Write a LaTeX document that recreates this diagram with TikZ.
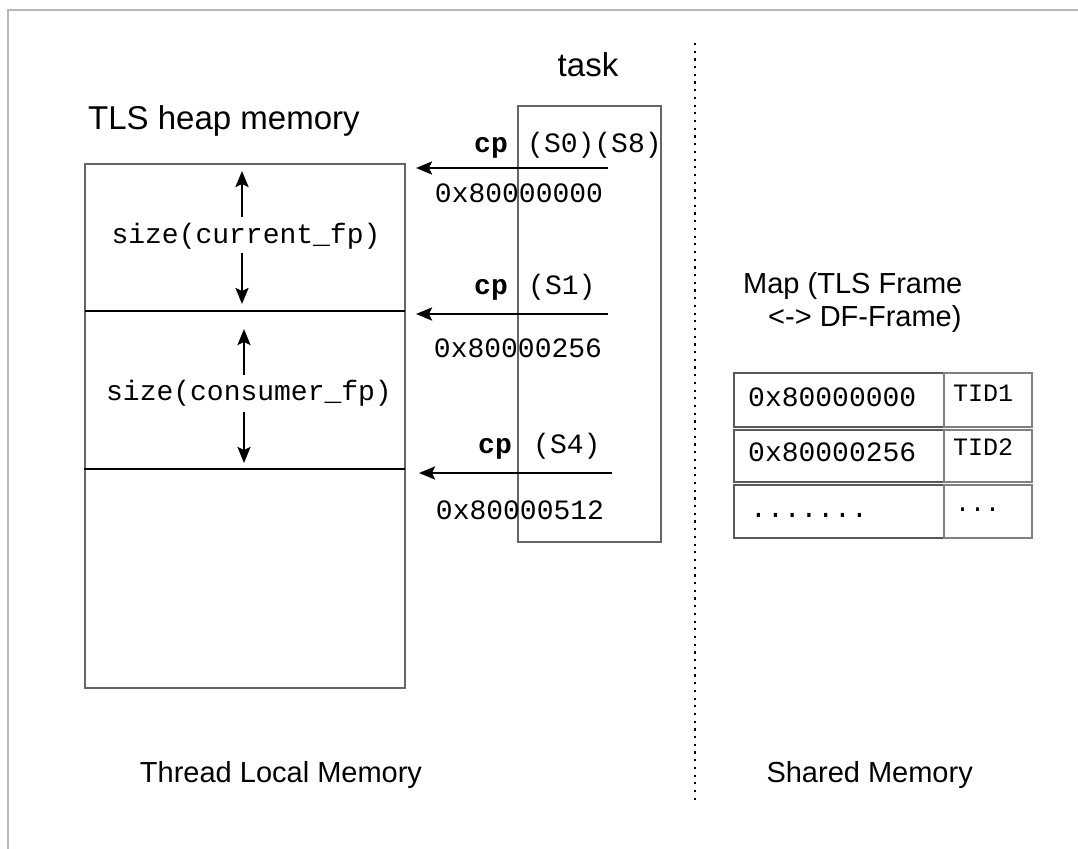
\documentclass[tikz,border=0pt]{standalone}
\usepackage{fontspec}
\setmainfont{Liberation Sans}
\setmonofont{Liberation Mono}
\usetikzlibrary{arrows.meta}
\begin{document}
\begin{tikzpicture}[x=1pt,y=-1pt,
  sans/.style={font=\fontsize{29}{33}\selectfont, inner sep=0pt},
  sansL/.style={font=\fontsize{33}{37}\selectfont, inner sep=0pt},
  mono/.style={font=\ttfamily\fontsize{28}{32}\selectfont, inner sep=0pt},
  monob/.style={font=\ttfamily\bfseries\fontsize{28}{32}\selectfont, inner sep=0pt},
  monos/.style={font=\ttfamily\fontsize{25}{29}\selectfont, inner sep=0pt},
  graybox/.style={draw=black!60, line width=2.2pt},
  sep/.style={draw=black, line width=2.2pt},
  arr/.style={draw=black, line width=2.4pt, -{Stealth[length=16pt,width=13pt,inset=3pt]}},
  cellL/.style={draw=black!65, line width=2pt},
  cellR/.style={draw=black!50, line width=1.5pt},
]
\useasboundingbox (0,0) rectangle (1078,848);
% outer frame (top and left visible)
\draw[black!28, line width=2pt] (8,900) -- (8,10) -- (1100,10);
% dotted divider
\coordinate (dtop) at (695,43);
\coordinate (dbot) at (695,800);
\draw[black, line width=2.2pt, dash pattern=on 2.2pt off 5.5pt] (dtop) -- (dbot);

% titles
\node[sansL, anchor=base west] (tlsT) at (88,130) {TLS heap memory};
\node[sansL, anchor=base] (taskT) at (588,77) {task};
\node[sans, anchor=base] (tlm) at (281,782) {Thread Local Memory};
\node[sans, anchor=base east] (shm) at (973,782) {Shared Memory};
\node[sans, anchor=base west] (map1) at (743,293) {Map (TLS Frame};
\node[sans, anchor=base west] (map2) at (768,326) {<-> DF-Frame)};

% heap box
\draw[graybox] (85,164) rectangle (405,688);
\coordinate (l1a) at (85,311); \coordinate (l1b) at (405,311);
\coordinate (l2a) at (84,469); \coordinate (l2b) at (405,469);
\draw[sep] (l1a) -- (l1b);
\draw[sep] (l2a) -- (l2b);

% size labels & arrows
\node[mono] (szc) at (246,236) {size(current\_fp)};
\node[mono] (szp) at (249,393) {size(consumer\_fp)};
\coordinate (a1s) at (242,217); \coordinate (a1e) at (242,171);
\coordinate (a2s) at (242,253); \coordinate (a2e) at (242,304);
\coordinate (a3s) at (244,375); \coordinate (a3e) at (244,329);
\coordinate (a4s) at (244,412); \coordinate (a4e) at (244,463);
\draw[arr] (a1s) -- (a1e);
\draw[arr] (a2s) -- (a2e);
\draw[arr] (a3s) -- (a3e);
\draw[arr] (a4s) -- (a4e);

% task box
\draw[graybox] (518,106) rectangle (661,542);

% cp labels
\node[monob, anchor=base east] (cp0) at (508,152) {cp};
\node[mono, anchor=base west] (s0) at (527,152) {(S0)(S8)};
\node[monob, anchor=base east] (cp1) at (508,294) {cp};
\node[mono, anchor=base west] (s1) at (528,294) {(S1)};
\node[monob, anchor=base east] (cp4) at (512,453) {cp};
\node[mono, anchor=base west] (s4) at (533,453) {(S4)};

\node[mono] (ad0) at (519,193) {0x80000000};
\node[mono] (ad1) at (518,348) {0x80000256};
\node[mono] (ad2) at (520,510) {0x80000512};

\coordinate (p0s) at (608,168); \coordinate (p0e) at (416,168);
\coordinate (p1s) at (608,314); \coordinate (p1e) at (416,314);
\coordinate (p2s) at (612,473); \coordinate (p2e) at (419,473);
\draw[arr] (p0s) -- (p0e);
\draw[arr] (p1s) -- (p1e);
\draw[arr] (p2s) -- (p2e);

% map table
\draw[cellL] (734,373) rectangle (944,427);
\draw[cellL] (734,430) rectangle (944,482);
\draw[cellL] (734,485) rectangle (944,538);
\draw[cellR] (944,373) rectangle (1032,427);
\draw[cellR] (944,430) rectangle (1032,482);
\draw[cellR] (944,485) rectangle (1032,538);
\node[mono, anchor=west] (m0) at (748,397) {0x80000000};
\node[mono, anchor=west] (m1) at (748,452) {0x80000256};
\node[mono, anchor=west] (m2) at (750,515) {.......};
\node[monos, anchor=west] (t0) at (953,393) {TID1};
\node[monos, anchor=west] (t1) at (953,447) {TID2};
\node[monos, anchor=west] (t2) at (955,510) {...};
\end{tikzpicture}
\end{document}
